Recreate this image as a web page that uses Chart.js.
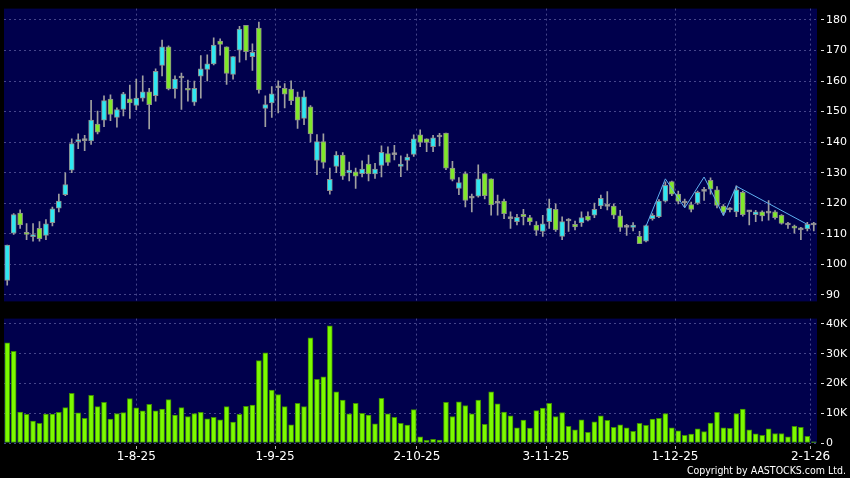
<!DOCTYPE html>
<html>
<head>
<meta charset="utf-8">
<script src="https://cdn.jsdelivr.net/npm/chart.js@4.4.1/dist/chart.umd.min.js"></script>
<style>
  html, body { margin: 0; padding: 0; background: #000; }
  body { width: 850px; height: 478px; position: relative; overflow: hidden; }
  #top { position: absolute; left: 0; top: 0; width: 850px; height: 310px; }
  #bot { position: absolute; left: 0; top: 310px; width: 850px; height: 168px; }
  #copy { position: absolute; right: 4px; top: 464px; color: #fff; font: 10.5px 'DejaVu Sans Condensed', 'DejaVu Sans', sans-serif; }
</style>
</head>
<body>
<div id="top"><canvas id="priceChart"></canvas></div>
<div id="bot"><canvas id="volChart"></canvas></div>
<div id="copy">Copyright by AASTOCKS.com Ltd.</div>
<script>
// daily candles, oldest first (126 sessions)
const openP = [94.8,110.2,116.8,110.5,109.1,111.8,109.5,113.7,118.4,122.8,130.8,140.2,140.5,140.4,145.9,147.2,154.1,148.1,150.7,154.2,
  152.0,154.4,156.5,155.2,165.1,171.2,157.4,161.0,157.6,153.1,161.6,163.8,165.6,173.1,171.2,162.2,170.1,178.2,168.0,177.3,
  151.0,152.8,157.8,157.6,157.4,154.8,147.8,151.6,134.0,140.2,124.1,132.1,135.8,129.9,130.3,129.7,132.8,129.6,132.4,136.3,
  135.9,132.1,134.0,136.0,142.4,141.1,138.5,141.7,143.0,131.5,124.9,129.7,121.7,122.3,129.7,128.0,120.0,120.7,115.0,114.0,
  116.4,115.3,112.9,110.8,114.0,118.0,109.2,114.2,113.1,113.7,115.8,116.1,119.1,119.0,119.1,115.9,112.1,112.1,109.2,107.6,
  115.0,115.6,120.7,127.1,123.0,120.1,119.6,120.0,123.9,127.5,124.4,119.1,117.9,117.2,123.6,117.2,116.3,117.2,116.8,117.2,
  116.1,112.9,112.3,111.3,111.6,112.9];
const highP = [106.3,116.6,117.9,113.4,113.4,114.0,114.7,118.8,123.0,130.0,141.1,142.7,142.2,153.7,150.2,155.2,155.5,151.2,156.3,158.7,
  160.6,161.7,157.6,164.0,173.4,171.5,161.7,162.6,160.3,160.0,168.3,168.6,174.1,173.8,171.2,168.0,177.9,178.2,172.2,179.3,
  155.2,158.2,160.1,159.2,160.1,156.4,156.8,152.0,142.5,142.7,131.5,136.9,136.6,133.5,131.5,133.9,135.8,133.1,138.8,138.5,
  139.0,135.5,136.1,142.4,144.0,141.1,142.2,142.9,143.0,133.7,128.4,130.3,123.0,132.6,129.7,128.0,122.7,121.4,117.2,116.4,
  118.0,116.1,114.0,116.1,121.4,119.8,115.6,115.0,114.2,117.2,117.2,120.1,122.7,123.8,119.8,117.7,113.1,113.7,110.8,112.9,
  116.6,121.2,127.0,127.3,124.0,121.4,120.4,124.0,125.2,128.3,125.5,119.6,118.6,125.7,124.0,117.7,117.7,117.5,120.9,117.6,
  116.3,113.8,112.9,112.1,113.8,113.8];
const lowP = [93.2,109.8,111.8,108.1,107.6,107.6,108.1,112.6,117.2,122.5,130.0,137.9,137.2,139.3,142.7,145.1,147.0,144.9,148.6,147.8,
  150.6,153.4,144.3,153.4,161.7,157.1,154.4,150.7,153.4,152.0,154.4,160.0,165.3,168.5,158.9,160.6,166.2,166.9,163.5,156.0,
  145.1,148.1,149.6,151.2,152.3,144.5,145.7,140.1,129.4,131.5,123.0,130.0,127.8,127.3,124.9,128.6,127.3,128.1,128.6,132.4,
  134.2,128.7,130.8,135.3,138.5,136.9,136.9,138.8,131.0,127.3,122.8,118.8,117.2,122.0,121.4,116.1,116.1,115.0,111.8,112.9,
  112.9,112.9,109.5,109.2,111.8,110.8,108.1,110.8,111.3,112.4,114.2,115.3,118.2,117.8,115.0,110.8,109.5,111.0,106.8,107.4,
  114.5,115.3,120.4,122.5,119.8,118.8,117.2,119.6,120.9,123.0,118.5,116.1,117.2,115.6,115.8,112.9,114.0,114.2,114.5,114.8,
  113.2,111.8,110.2,108.1,111.0,111.0];
const closeP = [106.3,116.3,112.9,109.8,109.8,108.4,113.3,118.2,120.7,126.1,139.5,140.8,140.5,147.2,143.3,153.6,149.1,150.7,155.8,152.8,
  154.4,156.5,152.3,163.2,171.2,157.4,160.6,161.0,157.0,157.6,164.0,165.6,171.8,172.0,162.5,168.0,177.0,169.6,169.4,157.1,
  152.3,155.8,157.8,155.7,153.6,147.2,154.8,142.7,140.2,133.4,127.8,135.8,128.9,130.9,128.9,131.2,129.6,131.2,136.7,133.4,
  135.9,132.8,135.1,141.1,139.9,139.9,141.4,141.7,131.5,127.8,126.8,120.9,121.7,128.0,122.5,119.5,120.0,116.6,115.0,115.4,
  115.6,114.0,111.1,113.3,118.4,111.3,114.0,114.2,112.3,115.3,114.5,118.0,121.6,119.0,116.1,112.1,112.1,112.9,106.8,112.7,
  116.1,120.7,125.9,123.0,120.6,120.1,118.0,123.6,123.9,124.6,119.3,117.0,117.9,124.4,116.3,117.2,117.2,115.9,116.8,115.3,
  113.4,112.9,111.9,111.3,113.1,112.9];
// volume in thousands of shares
const volK = [33.7,30.8,10.4,9.6,7.4,6.6,9.7,9.7,10.3,11.9,16.7,10.1,8.3,16.0,12.2,13.7,8.0,9.9,10.2,14.9,
  11.8,10.8,13.0,10.8,11.4,14.6,9.4,11.9,8.9,9.9,10.3,8.1,8.6,7.8,12.2,7.0,9.6,12.3,12.7,27.7,
  30.3,17.8,16.3,12.2,6.1,13.3,12.2,35.3,21.4,22.2,39.4,17.2,14.4,9.8,13.3,10.0,9.4,6.4,15.0,9.8,
  8.6,6.6,6.0,11.2,2.1,0.9,1.2,1.0,13.7,8.9,13.8,12.6,9.8,14.4,6.3,17.2,13.2,10.4,9.1,5.1,
  7.7,5.0,10.9,11.7,13.3,8.9,10.2,5.6,4.4,7.8,3.6,7.1,9.1,7.6,5.3,6.1,5.1,3.9,6.6,5.9,
  8.0,8.3,9.9,5.1,4.1,2.6,3.0,4.8,3.8,6.7,10.3,5.1,4.9,9.9,11.4,4.4,3.1,2.6,4.8,3.2,
  3.2,2.1,5.6,5.3,2.2,0.4];
// zigzag overlay turning points (session index, price)
const zzIdx = [99, 102, 105, 108, 111, 113, 124];
const zzVal = [112.5, 128.0, 118.5, 128.6, 116.0, 125.6, 113.1];

const dateTickPos = [20, 41.5, 63.5, 83.5, 103.5, 124.5];
const dateTickLabels = ['1-8-25', '1-9-25', '2-10-25', '3-11-25', '1-12-25', '2-1-26'];
const priceTicks = [90, 100, 110, 120, 130, 140, 150, 160, 170, 180];
const volTicks = [0, 10, 20, 30, 40];

const NAVY = '#00004c';
const GRID = '#45458a';
const CYAN = '#2ee8f2';
const LIME = '#80e82a';
const DOJI = '#a8a8a8';
const FONT = 'DejaVu Sans';

const navyBg = {
  id: 'navyBg',
  beforeDraw(chart) {
    const { ctx, chartArea: a } = chart;
    ctx.save();
    ctx.fillStyle = NAVY;
    ctx.fillRect(a.left, a.top, a.right - a.left, a.bottom - a.top);
    ctx.restore();
  }
};

const idx = openP.map((_, i) => i);
const bodyColors = closeP.map((c, i) => c > openP[i] ? CYAN : c < openP[i] ? LIME : DOJI);

function xAxis(showLabels) {
  return {
    type: 'linear', min: -0.5, max: openP.length - 0.5, offset: false,
    afterBuildTicks: s => { s.ticks = dateTickPos.map(v => ({ value: v })); },
    afterFit: s => { s.height = showLabels ? 35 : 5; },
    grid: { color: GRID, offset: false, drawTicks: showLabels, tickLength: 6, tickColor: '#b0b0b0', tickBorderDash: [0, 3, 3, 50] },
    border: { display: false, dash: [2, 3] },
    ticks: { display: showLabels, color: '#fff', font: { family: FONT, size: 12 }, padding: 1, maxRotation: 0, autoSkip: false,
      callback: (v, i) => dateTickLabels[i] }
  };
}

function yAxis(min, max, tickVals, fmt) {
  return {
    position: 'right', min: min, max: max,
    afterBuildTicks: s => { s.ticks = tickVals.map(v => ({ value: v })); },
    afterFit: s => { s.width = 33; },
    grid: { color: GRID, drawTicks: true, tickLength: 7, tickColor: '#e0e0e0', tickBorderDash: [0, 4, 3, 50] },
    border: { display: false, dash: [2, 3] },
    ticks: { color: '#fff', font: { family: FONT, size: 11 }, padding: 2, callback: fmt }
  };
}

new Chart(document.getElementById('priceChart'), {
  type: 'bar',
  data: {
    datasets: [
      {
        type: 'line', label: 'ZigZag', order: 1,
        data: zzIdx.map((x, i) => ({ x: x, y: zzVal[i] })),
        borderColor: '#5fb0f0', borderWidth: 1, pointRadius: 0, tension: 0
      },
      {
        label: 'Body', order: 2, grouped: false,
        data: idx.map(i => ({ x: i, y: [openP[i], closeP[i]] })),
        backgroundColor: bodyColors, borderColor: '#8c8c8c', borderWidth: 1, borderSkipped: false,
        barThickness: 5, minBarLength: 2
      },
      {
        label: 'Wick', order: 3, grouped: false,
        data: idx.map(i => ({ x: i, y: [lowP[i], highP[i]] })),
        backgroundColor: '#a0a0a0', borderWidth: 0, barThickness: 1
      }
    ]
  },
  options: {
    responsive: true, maintainAspectRatio: false, animation: false,
    layout: { padding: { left: 4, top: 5, right: 0, bottom: 0 } },
    plugins: { legend: { display: false }, tooltip: { enabled: false } },
    scales: {
      x: xAxis(false),
      y: yAxis(87.9, 183.7, priceTicks, v => v)
    }
  },
  plugins: [navyBg]
});

new Chart(document.getElementById('volChart'), {
  type: 'bar',
  data: {
    datasets: [{
      label: 'Volume',
      data: idx.map(i => ({ x: i, y: volK[i] })),
      backgroundColor: '#7cfa00', borderColor: '#3f8f00', borderWidth: 1, borderSkipped: false,
      barThickness: 5
    }]
  },
  options: {
    responsive: true, maintainAspectRatio: false, animation: false,
    layout: { padding: { left: 4, top: 8, right: 0, bottom: 0 } },
    plugins: { legend: { display: false }, tooltip: { enabled: false } },
    scales: {
      x: xAxis(true),
      y: yAxis(0, 41.8, volTicks, v => v === 0 ? '0' : v + 'K')
    }
  },
  plugins: [navyBg]
});
</script>
</body>
</html>
